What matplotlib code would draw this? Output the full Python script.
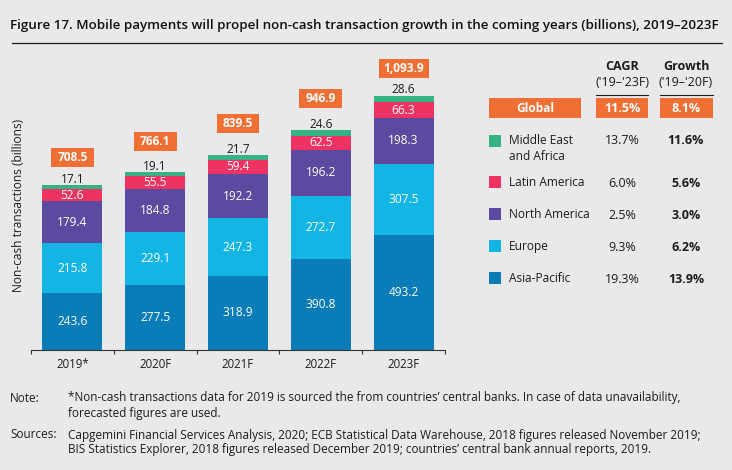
import matplotlib
matplotlib.use("Agg")
import matplotlib.pyplot as plt
from matplotlib.patches import Rectangle
from matplotlib.lines import Line2D

W, H = 732, 470
BG = "#e9e9ec"
ORANGE = "#f26f33"
DARK = "#1c1c1c"

years = ["2019*", "2020F", "2021F", "2022F", "2023F"]
asia_pacific = [243.6, 277.5, 318.9, 390.8, 493.2]
europe = [215.8, 229.1, 247.3, 272.7, 307.5]
north_america = [179.4, 184.8, 192.2, 196.2, 198.3]
latin_america = [52.6, 55.5, 59.4, 62.5, 66.3]
mea = [17.1, 19.1, 21.7, 24.6, 28.6]
totals = ["708.5", "766.1", "839.5", "946.9", "1,093.9"]

series = [asia_pacific, europe, north_america, latin_america, mea]
colors = ["#0a7cb8", "#13b5e4", "#5b4a9f", "#ee3362", "#35b384"]

regions = ["Middle East\nand Africa", "Latin America", "North America", "Europe", "Asia-Pacific"]
cagr = ["13.7%", "6.0%", "2.5%", "9.3%", "19.3%"]
growth = ["11.6%", "5.6%", "3.0%", "6.2%", "13.9%"]
region_colors = ["#35b384", "#ee3362", "#5b4a9f", "#13b5e4", "#0a7cb8"]
row_y = [141, 182, 214, 246, 278]

# layout of the total boxes, in pixels above the bar top
total_gap = [28, 30.5, 31, 31, 26.7]
total_width = [43, 43, 42, 43, 50]

plt.rcParams["font.family"] = ["Open Sans", "DejaVu Sans"]
fig = plt.figure(figsize=(W / 100, H / 100), dpi=100, facecolor=BG)


def px(x, y):
    return x / W, 1 - y / H


def ptext(x, y, s, **kw):
    kw.setdefault("va", "center")
    kw.setdefault("color", DARK)
    fig.text(*px(x, y), s, **kw)


def box(x0, y0, x1, y1, color):
    fig.add_artist(Rectangle(px(x0, y1), (x1 - x0) / W, (y1 - y0) / H,
                             transform=fig.transFigure, facecolor=color, edgecolor="none"))


def hline(x0, x1, y, lw=1):
    fig.add_artist(Line2D([x0 / W, x1 / W], [1 - y / H] * 2, color=DARK, lw=lw))


# chart
ax = fig.add_axes([31 / W, 1 - 350 / H, (445 - 31) / W, (350 - 50) / H])
ax.set_facecolor("none")
ax.set_xlim(-0.5, 4.5)
ax.set_ylim(0, 300 / 0.2325)

xs = list(range(len(years)))
bottom = [0] * len(years)
for i, vals in enumerate(series):
    ax.bar(xs, vals, 0.725, bottom=bottom, color=colors[i])
    for x, b, v in zip(xs, bottom, vals):
        if i == 4:
            ax.annotate(f"{v}", (x, b + v), xytext=(0, -0.5), textcoords="offset points",
                        ha="center", va="bottom", fontsize=8.6, color=DARK)
        else:
            ax.text(x, b + v / 2, f"{v}", ha="center", va="center", fontsize=8.6, color="white")
    bottom = [b + v for b, v in zip(bottom, vals)]

for x, b, t, gap, w in zip(xs, bottom, totals, total_gap, total_width):
    cx, cy = ax.transData.transform((x, b))
    cy = H - cy - gap
    box(cx - w / 2, cy - 9.5, cx + w / 2, cy + 9.5, ORANGE)
    ptext(cx, cy, t, ha="center", fontsize=8.6, color="white", fontweight="bold")

for s in ["top", "left", "right"]:
    ax.spines[s].set_visible(False)
ax.spines["bottom"].set_color("#333333")
ax.spines["bottom"].set_linewidth(0.8)
ax.set_yticks([])
ax.set_xticks([-0.5, 0.5, 1.5, 2.5, 3.5, 4.5])
ax.set_xticklabels([])
ax.set_xticks(xs, minor=True)
ax.set_xticklabels(years, minor=True, fontsize=8.3, color=DARK)
ax.tick_params(axis="x", which="major", length=3, width=0.8, color="#333333")
ax.tick_params(axis="x", which="minor", length=0, pad=6)

ptext(19, 205, "Non-cash transactions (billions)", rotation=90, ha="center", fontsize=8.6)

# title
ptext(10, 25, "Figure 17. Mobile payments will propel non-cash transaction growth in the coming years (billions), 2019–2023F",
      fontsize=9.65, fontweight="semibold", color="#111111")
hline(12, 722, 43, 0.9)

# side table
ptext(622, 67, "CAGR", ha="center", fontsize=9, fontweight="bold")
ptext(686, 67, "Growth", ha="center", fontsize=9, fontweight="bold")
ptext(622, 83, "('19–'23F)", ha="center", fontsize=9)
ptext(686, 83, "('19–'20F)", ha="center", fontsize=9)
hline(596, 648, 95, 0.8)
hline(660, 713, 95, 0.8)

box(489, 98, 581, 118, ORANGE)
box(596, 98, 648, 118, ORANGE)
box(660, 98, 713, 118, ORANGE)
ptext(535, 108, "Global", ha="center", color="white", fontsize=8.6, fontweight="bold")
ptext(622, 108, "11.5%", ha="center", color="white", fontsize=9, fontweight="bold")
ptext(686, 108, "8.1%", ha="center", color="white", fontsize=9, fontweight="bold")

for name, c, g, col, y in zip(regions, cagr, growth, region_colors, row_y):
    box(489, y - 6, 501, y + 6, col)
    if "\n" in name:
        ptext(509, y, name.split("\n")[0], fontsize=8.6)
        ptext(509, y + 16, name.split("\n")[1], fontsize=8.6)
        ptext(622, y, c, ha="center", fontsize=9)
        ptext(686, y, g, ha="center", fontsize=9, fontweight="bold")
    else:
        ptext(509, y + 0.5, name, fontsize=8.6)
        ptext(622, y + 1.5, c, ha="center", fontsize=9)
        ptext(686, y + 1.5, g, ha="center", fontsize=9, fontweight="bold")

# footer
foot = ["Open Sans", "DejaVu Sans"]
ptext(10, 398, "Note:", fontsize=8.5, family=foot)
ptext(10, 435, "Sources:", fontsize=8.5, family=foot)
ptext(68, 398, "*Non-cash transactions data for 2019 is sourced the from countries’ central banks. In case of data unavailability,", fontsize=8.45, family=foot)
ptext(68, 413, "forecasted figures are used.", fontsize=8.45, family=foot)
ptext(68, 435, "Capgemini Financial Services Analysis, 2020; ECB Statistical Data Warehouse, 2018 figures released November 2019;", fontsize=8.45, family=foot)
ptext(68, 450, "BIS Statistics Explorer, 2018 figures released December 2019; countries’ central bank annual reports, 2019.", fontsize=8.45, family=foot)

fig.savefig("out.png", dpi=100, facecolor=BG)
